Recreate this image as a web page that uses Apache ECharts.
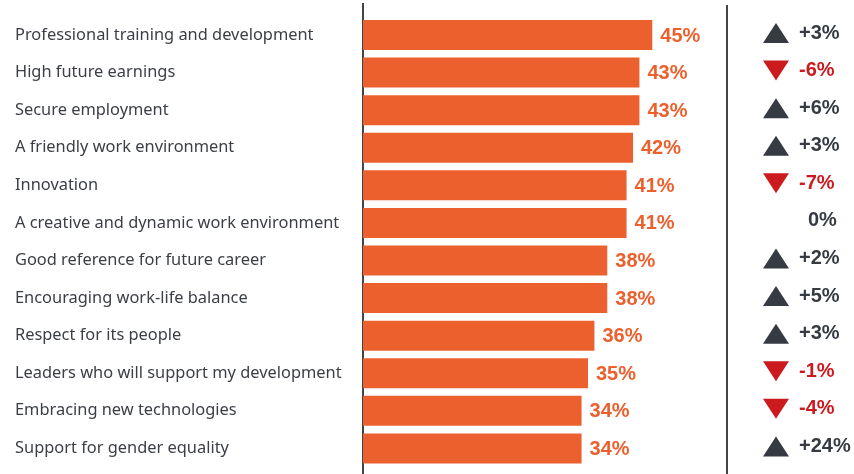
<!DOCTYPE html>
<html>
<head>
<meta charset="utf-8">
<script src="https://cdn.jsdelivr.net/npm/echarts@6/dist/echarts.min.js"></script>
<style>
  html, body { margin: 0; padding: 0; background: #fff; }
  #chart { width: 854px; height: 474px; }
</style>
</head>
<body>
<div id="chart"></div>
<script>
const categories = [
  'Professional training and development',
  'High future earnings',
  'Secure employment',
  'A friendly work environment',
  'Innovation',
  'A creative and dynamic work environment',
  'Good reference for future career',
  'Encouraging work-life balance',
  'Respect for its people',
  'Leaders who will support my development',
  'Embracing new technologies',
  'Support for gender equality'
]
const shares = [45, 43, 43, 42, 41, 41, 38, 38, 36, 35, 34, 34]
const changes = [3, -6, 6, 3, -7, 0, 2, 5, 3, -1, -4, 24]

const orange = '#ec602e'
const dark = '#363b43'
const red = '#cc1b1f'

const chart = echarts.init(document.getElementById('chart'))

// up / down / none marker per change value
const changeData = changes.map((c, i) => {
  const item = { value: [0, categories[i]], change: c }
  if (c > 0) {
    item.symbolRotate = 0
    item.itemStyle = { color: dark, opacity: 1 }
    item.label = { color: dark }
  } else if (c < 0) {
    item.symbolRotate = 180
    item.itemStyle = { color: red, opacity: 1 }
    item.label = { color: red }
  } else {
    item.itemStyle = { color: 'transparent' }
    item.label = { color: dark, offset: [9, 0] }
  }
  return item
})

const option = {
  animation: false,
  grid: [
    { left: 363, top: 16.2, width: 360, height: 451 },
    { left: 776, top: 16.2, width: 60, height: 451 }
  ],
  xAxis: [
    { gridIndex: 0, type: 'value', min: 0, max: 56, show: false },
    { gridIndex: 1, type: 'value', min: 0, max: 1, show: false }
  ],
  yAxis: [
    {
      gridIndex: 0,
      type: 'category',
      data: categories,
      inverse: true,
      axisLine: { show: false },
      axisTick: { show: false },
      axisLabel: {
        align: 'left',
        margin: 348,
        color: '#3b3f45',
        fontSize: 16.4,
        fontFamily: 'Noto Sans'
      }
    },
    {
      gridIndex: 1,
      type: 'category',
      data: categories,
      inverse: true,
      show: false
    }
  ],
  series: [
    {
      type: 'bar',
      xAxisIndex: 0,
      yAxisIndex: 0,
      data: shares,
      barCategoryGap: '20%',
      itemStyle: { color: orange },
      label: {
        show: true,
        position: 'right',
        distance: 8,
        offset: [0, 1],
        formatter: '{c}%',
        color: orange,
        fontSize: 20,
        fontWeight: 'bold',
        fontFamily: 'Liberation Sans'
      }
    },
    {
      type: 'scatter',
      xAxisIndex: 1,
      yAxisIndex: 1,
      data: changeData,
      symbol: 'triangle',
      symbolSize: [26, 20],
      symbolOffset: [0, -2],
      itemStyle: { opacity: 1 },
      label: {
        show: true,
        position: 'right',
        distance: 10,
        fontSize: 20,
        fontWeight: 'bold',
        fontFamily: 'Liberation Sans',
        formatter: p => (p.data.change > 0 ? '+' : '') + p.data.change + '%'
      }
    }
  ],
  graphic: [
    { type: 'line', shape: { x1: 363, y1: 3, x2: 363, y2: 474 }, style: { stroke: '#444', lineWidth: 2 } },
    { type: 'line', shape: { x1: 727, y1: 5, x2: 727, y2: 474 }, style: { stroke: '#444', lineWidth: 2 } }
  ]
}

chart.setOption(option)
</script>
</body>
</html>
